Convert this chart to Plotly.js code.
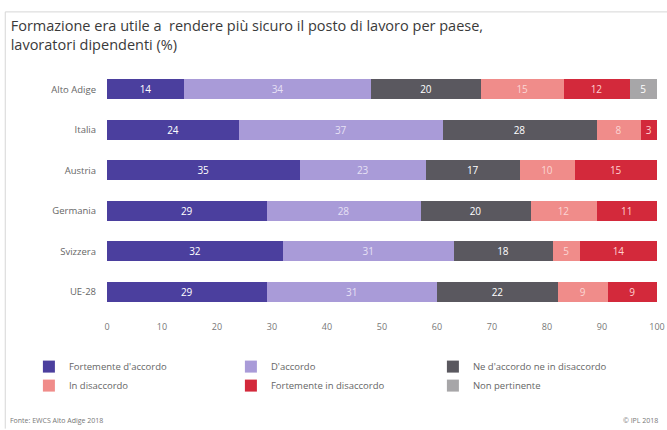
<!DOCTYPE html>
<html>
<head>
<meta charset="utf-8">
<script src="https://cdn.plot.ly/plotly-3.0.1.min.js"></script>
<style>body{margin:0;background:#fff;} #chart{width:667px;height:430px;}</style>
</head>
<body>
<div id="chart"></div>
<script>
const categories = ["Alto Adige", "Italia", "Austria", "Germania", "Svizzera", "UE-28"];
const seriesNames = ["Fortemente d'accordo", "D'accordo", "Ne d'accordo ne in disaccordo", "In disaccordo", "Fortemente in disaccordo", "Non pertinente"];
const fortementeAccordo = [14, 24, 35, 29, 32, 29];
const accordo = [34, 37, 23, 28, 31, 31];
const neNe = [20, 28, 17, 20, 18, 22];
const disaccordo = [15, 8, 10, 12, 5, 9];
const fortementeDisaccordo = [12, 3, 15, 11, 14, 9];
const nonPertinente = [5, 0, 0, 0, 0, 0];
const xTicks = [0, 10, 20, 30, 40, 50, 60, 70, 80, 90, 100];

const seriesValues = [fortementeAccordo, accordo, neNe, disaccordo, fortementeDisaccordo, nonPertinente];
const colors = ["#4b3f9e", "#a99bd8", "#5a585f", "#f08c8a", "#d3293b", "#a7a6a8"];
const textColors = ["#ffffff", "#e6e0f5", "#ffffff", "#fbd6d4", "#ffd0d0", "#ffffff"];

const traces = seriesValues.map((vals, i) => ({
  type: "bar",
  orientation: "h",
  name: seriesNames[i],
  y: categories,
  x: vals,
  text: vals.map(v => v > 0 ? String(v) : ""),
  textposition: "inside",
  insidetextanchor: "middle",
  textangle: 0,
  constraintext: "none",
  textfont: {family: "Open Sans", size: 10, color: textColors[i]},
  marker: {color: colors[i], line: {width: 0}},
  hoverinfo: "skip"
}));

const layout = {
  width: 667, height: 430,
  margin: {l: 107, r: 10, t: 69, b: 118},
  paper_bgcolor: "#ffffff",
  plot_bgcolor: "#ffffff",
  barmode: "stack",
  bargap: 0.5,
  font: {family: "Open Sans", color: "#555"},
  title: {
    text: "Formazione era utile a  rendere più sicuro il posto di lavoro per paese,<br>lavoratori dipendenti (%)",
    font: {family: "Open Sans", size: 14.5, color: "#3a3a3a"},
    xref: "container", yref: "container",
    x: 0.016, xanchor: "left",
    y: 0.928, yanchor: "top"
  },
  xaxis: {
    range: [0, 100],
    tickvals: xTicks,
    ticktext: xTicks.map(String),
    showgrid: false, zeroline: false, showline: false,
    ticks: "",
    tickfont: {family: "Open Sans", size: 9, color: "#777"},
    ticklabelstandoff: 8,
    fixedrange: true
  },
  yaxis: {
    categoryorder: "array",
    categoryarray: categories,
    autorange: "reversed",
    showgrid: false, zeroline: false, showline: false,
    ticks: "",
    tickfont: {family: "Open Sans", size: 9.5, color: "#666"},
    ticklabelstandoff: 10,
    fixedrange: true
  },
  showlegend: true,
  legend: {
    orientation: "h",
    xref: "paper", yref: "paper",
    x: -0.142, xanchor: "left",
    y: -0.165, yanchor: "top",
    entrywidth: 157, entrywidthmode: "pixels",
    traceorder: "normal",
    font: {family: "Open Sans", size: 9.5, color: "#666"},
    itemwidth: 30,
    tracegroupgap: 0
  },
  shapes: [
    {type: "line", xref: "paper", yref: "paper", x0: -0.185, x1: 1.02, y0: 1.235, y1: 1.235, line: {color: "#d6d6d6", width: 1}},
    {type: "line", xref: "paper", yref: "paper", x0: -0.185, x1: -0.185, y0: 1.235, y1: -0.48, line: {color: "#d6d6d6", width: 1}}
  ],
  annotations: [
    {text: "Fonte: EWCS Alto Adige 2018", xref: "paper", yref: "paper", x: -0.18, y: -0.445, xanchor: "left", yanchor: "middle", showarrow: false, font: {family: "Open Sans", size: 7, color: "#777"}},
    {text: "© IPL 2018", xref: "paper", yref: "paper", x: 0.935, y: -0.445, xanchor: "left", yanchor: "middle", showarrow: false, font: {family: "Open Sans", size: 7, color: "#777"}}
  ]
};

Plotly.newPlot("chart", traces, layout, {displayModeBar: false, staticPlot: true});
</script>
</body>
</html>
